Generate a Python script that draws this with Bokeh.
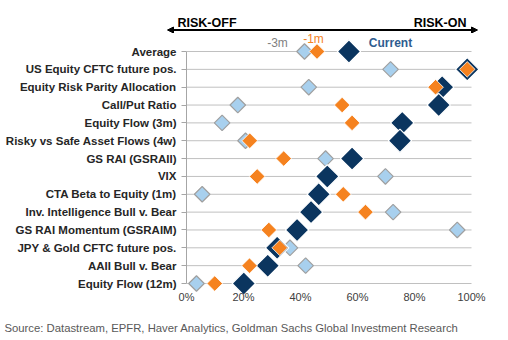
import math
from bokeh.plotting import figure
from bokeh.layouts import column
from bokeh.models import (Range1d, FixedTicker, PrintfTickFormatter, Label, Arrow,
                          NormalHead, ColumnDataSource)
from bokeh.embed import file_html
from bokeh.resources import INLINE

# ---------------- data ----------------
categories = ["Average", "US Equity CFTC future pos.", "Equity Risk Parity Allocation",
              "Call/Put Ratio", "Equity Flow (3m)", "Risky vs Safe Asset Flows (4w)",
              "GS RAI (GSRAII)", "VIX", "CTA Beta to Equity (1m)",
              "Inv. Intelligence Bull v. Bear", "GS RAI Momentum (GSRAIM)",
              "JPY & Gold CFTC future pos.", "AAII Bull v. Bear", "Equity Flow (12m)"]
current = [57.0, 98.5, 89.7, 88.5, 75.7, 74.9, 58.1, 49.4, 46.4, 43.7, 38.8, 31.8, 28.5, 20.1]
minus_1m = [45.8, 98.5, 87.4, 54.6, 58.1, 22.2, 34.1, 24.8, 55.0, 62.8, 28.9, 32.7, 22.1, 9.9]
minus_3m = [41.4, 71.6, 42.9, 18.0, 12.5, 20.7, 48.8, 69.8, 5.5, 72.5, 95.0, 36.3, 41.8, 3.5]
x_ticks = [0, 20, 40, 60, 80, 100]
series_labels = ["-3m", "-1m", "Current"]
direction_labels = ["RISK-OFF", "RISK-ON"]
source_text = "Source: Datastream, EPFR, Haver Analytics, Goldman Sachs Global Investment Research"

n = len(categories)
rows = [n - 1 - i for i in range(n)]   # Average on top

# ---------------- layout (absolute page pixels) ----------------
W, H = 508, 340
HEAD_H = 33                 # header strip height
FOOT_TOP = 312              # footer strip top
FL, FR, FB = 186, 482, 296  # main frame left / right / bottom
X100 = 471                  # pixel of 100%
ROW_TOP, ROW_BOT = 51, 283  # pixel of top / bottom row
ppx = (X100 - FL) / 100.0
ppr = (ROW_BOT - ROW_TOP) / (n - 1)
x_end = (FR - FL) / ppx
y_start = -(FB - ROW_BOT) / ppr
y_end = (n - 1) + (ROW_TOP - HEAD_H) / ppr

def dx(px):
    return (px - FL) / ppx

def dy(py):
    return (ROW_BOT - py) / ppr

NAVY = "#0B355F"
ORANGE = "#F5821F"
LBLUE = "#A8D0EE"
GRID = "#C0C0C0"
FONT = "Liberation Sans"

# ---------------- header strip ----------------
head = figure(width=W, height=HEAD_H, output_backend="svg", toolbar_location=None,
              x_range=Range1d(0, W), y_range=Range1d(HEAD_H, 0),
              x_axis_type=None, y_axis_type=None,
              min_border_left=0, min_border_right=0, min_border_top=0, min_border_bottom=0)
head.frame_align = False
head.outline_line_color = None
head.grid.visible = False
head.add_layout(Arrow(x_start=167, y_start=29.5, x_end=477, y_end=29.5,
                      line_color="black", line_width=2,
                      start=NormalHead(size=6, fill_color="black", line_color="black"),
                      end=NormalHead(size=6, fill_color="black", line_color="black")))
head.add_layout(Label(x=177, y=22.5, text=direction_labels[0], text_align="left",
                      text_baseline="middle", text_font=FONT,
                      text_font_style="bold", text_font_size="12.5px", text_color="black"))
head.add_layout(Label(x=466, y=22.5, text=direction_labels[1], text_align="right",
                      text_baseline="middle", text_font=FONT,
                      text_font_style="bold", text_font_size="12.5px", text_color="black"))

# ---------------- main chart ----------------
p = figure(width=W, height=FOOT_TOP - HEAD_H, output_backend="svg", toolbar_location=None,
           x_range=Range1d(0, x_end), y_range=Range1d(y_start, y_end),
           min_border_left=FL, min_border_right=W - FR,
           min_border_top=0, min_border_bottom=FOOT_TOP - FB)
p.frame_align = False
p.outline_line_color = None
p.xgrid.visible = False
p.ygrid.visible = False

# horizontal guide lines across the 0-100% domain
p.segment(x0=[x_ticks[0]] * n, x1=[x_ticks[-1]] * n, y0=rows, y1=rows,
          line_color=GRID, line_width=1)

src = ColumnDataSource(dict(y=rows, cur=current, m1=minus_1m, m3=minus_3m))
ang = math.pi / 4
p.scatter(x="m3", y="y", source=src, marker="square", size=11, angle=ang,
          fill_color=LBLUE, line_color="#A0A0A0", line_width=1.2)
p.scatter(x="cur", y="y", source=src, marker="square", size=16.5, angle=ang,
          fill_color=NAVY, line_color="white", line_width=1.2)
p.scatter(x="m1", y="y", source=src, marker="square", size=11, angle=ang,
          fill_color=ORANGE, line_color="white", line_width=0.8)

# x axis
xa = p.xaxis[0]
xa.ticker = FixedTicker(ticks=x_ticks)
xa.formatter = PrintfTickFormatter(format="%d%%")
xa.axis_line_color = None
xa.major_tick_line_color = None
xa.minor_tick_line_color = None
xa.major_tick_in = 0
xa.major_tick_out = 0
xa.major_label_standoff = -6
xa.major_label_text_font = FONT
xa.major_label_text_font_size = "11px"
xa.major_label_text_color = "#404040"

# y axis
ya = p.yaxis[0]
ya.ticker = FixedTicker(ticks=rows)
ya.major_label_overrides = {r: c for r, c in zip(rows, categories)}
ya.bounds = (0, n - 1)
ya.axis_line_color = "#A6A6A6"
ya.major_tick_line_color = "#A6A6A6"
ya.minor_tick_line_color = None
ya.major_tick_in = 0
ya.major_tick_out = 5
ya.major_label_standoff = 5
ya.major_label_text_font = FONT
ya.major_label_text_font_style = "bold"
ya.major_label_text_font_size = "11.5px"
ya.major_label_text_color = "#262626"

for txt, cx, cy, col, st in [(series_labels[0], 277, 42.5, "#7F7F7F", "normal"),
                             (series_labels[1], 313, 38, ORANGE, "normal"),
                             (series_labels[2], 390, 42.5, "#2E5C8F", "bold")]:
    p.add_layout(Label(x=dx(cx), y=dy(cy), text=txt, text_align="center",
                       text_baseline="middle", text_font=FONT,
                       text_font_style=st, text_font_size="12px", text_color=col))

# ---------------- footer strip ----------------
foot = figure(width=W, height=H - FOOT_TOP, output_backend="svg", toolbar_location=None,
              x_range=Range1d(0, W), y_range=Range1d(H - FOOT_TOP, 0),
              x_axis_type=None, y_axis_type=None,
              min_border_left=0, min_border_right=0, min_border_top=0, min_border_bottom=0)
foot.frame_align = False
foot.outline_line_color = None
foot.grid.visible = False
foot.add_layout(Label(x=4, y=327 - FOOT_TOP, text=source_text, text_align="left",
                      text_baseline="middle", text_font=FONT,
                      text_font_size="11.3px", text_color="#595959"))

layout = column(head, p, foot, spacing=0)
open("out.html", "w").write(file_html(layout, INLINE))
